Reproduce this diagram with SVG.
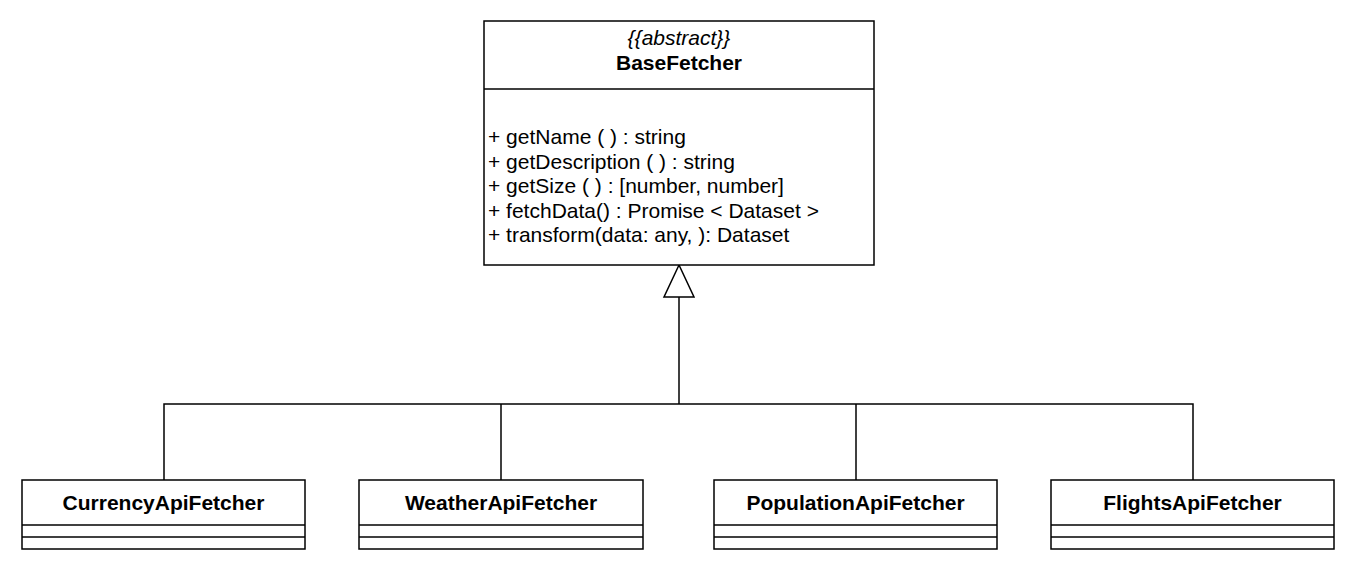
<svg xmlns="http://www.w3.org/2000/svg" width="1355" height="568" viewBox="0 0 1355 568">
<style>
  .box { fill: #fff; stroke: #000; stroke-width: 1.5; }
  .ln { fill: none; stroke: #000; stroke-width: 1.5; }
  text { font-family: "Liberation Sans", Arial, sans-serif; font-size: 21px; fill: #000; }
  .b { font-weight: bold; }
  .i { font-style: italic; }
  .c { text-anchor: middle; }
</style>
<rect width="1355" height="568" fill="#fff"/>
<g id="connectors">
  <polyline class="ln" points="164,480 164,404 1193,404 1193,480"/>
  <line class="ln" x1="501" y1="404" x2="501" y2="480"/>
  <line class="ln" x1="856" y1="404" x2="856" y2="480"/>
  <line class="ln" x1="679" y1="404" x2="679" y2="297"/>
  <polygon class="box" points="679,265 664,297 694,297"/>
</g>
<g id="BaseFetcher">
  <rect class="box" x="484" y="21" width="390" height="244"/>
  <line class="ln" x1="484" y1="89" x2="874" y2="89"/>
  <text class="i c" x="679" y="45">{{abstract}}</text>
  <text class="b c" x="679" y="70">BaseFetcher</text>
  <text x="488" y="144">+ getName ( ) : string</text>
  <text x="488" y="168.5">+ getDescription ( ) : string</text>
  <text x="488" y="193">+ getSize ( ) : [number, number]</text>
  <text x="488" y="217.5">+ fetchData() : Promise &lt; Dataset &gt;</text>
  <text x="488" y="242">+ transform(data: any, ): Dataset</text>
</g>
<g id="CurrencyApiFetcher">
  <rect class="box" x="22" y="480" width="283" height="69"/>
  <line class="ln" x1="22" y1="525" x2="305" y2="525"/>
  <line class="ln" x1="22" y1="537" x2="305" y2="537"/>
  <text class="b c" x="163.5" y="510">CurrencyApiFetcher</text>
</g>
<g id="WeatherApiFetcher">
  <rect class="box" x="359" y="480" width="284" height="69"/>
  <line class="ln" x1="359" y1="525" x2="643" y2="525"/>
  <line class="ln" x1="359" y1="537" x2="643" y2="537"/>
  <text class="b c" x="501" y="510">WeatherApiFetcher</text>
</g>
<g id="PopulationApiFetcher">
  <rect class="box" x="714" y="480" width="283" height="69"/>
  <line class="ln" x1="714" y1="525" x2="997" y2="525"/>
  <line class="ln" x1="714" y1="537" x2="997" y2="537"/>
  <text class="b c" x="855.5" y="510">PopulationApiFetcher</text>
</g>
<g id="FlightsApiFetcher">
  <rect class="box" x="1051" y="480" width="283" height="69"/>
  <line class="ln" x1="1051" y1="525" x2="1334" y2="525"/>
  <line class="ln" x1="1051" y1="537" x2="1334" y2="537"/>
  <text class="b c" x="1192.5" y="510">FlightsApiFetcher</text>
</g>
</svg>
